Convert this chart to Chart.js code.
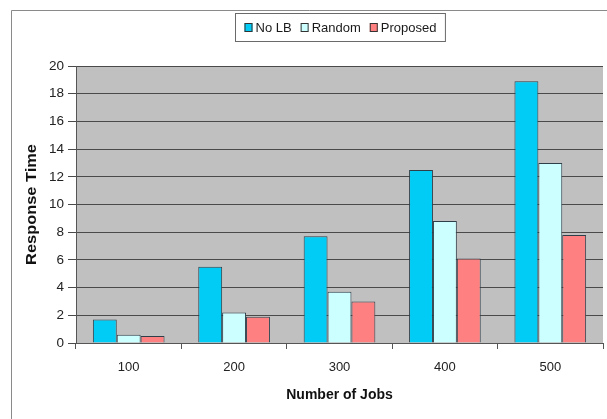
<!DOCTYPE html>
<html>
<head>
<meta charset="utf-8">
<style>
  html, body { margin: 0; padding: 0; background: #ffffff; }
  #wrap { width: 607px; height: 419px; position: relative; }
</style>
<script src="https://cdn.jsdelivr.net/npm/chart.js@4/dist/chart.umd.min.js"></script>
</head>
<body>
<div id="wrap"><canvas id="c" width="607" height="419"></canvas></div>
<script>
// Number of jobs on the x axis
const jobCounts = ['100', '200', '300', '400', '500'];

// Response time per load-balancing strategy
const noLB     = [1.7, 5.5, 7.7, 12.5, 18.9];
const randomLB = [0.6, 2.2, 3.7, 8.8, 13.0];
const proposed = [0.5, 1.9, 3.0, 6.1, 7.8];

const seriesNames = ['No LB', 'Random', 'Proposed'];
const yTicks = [0, 2, 4, 6, 8, 10, 12, 14, 16, 18, 20];
const yTitle = 'Response Time';

const FONT = '"Liberation Sans", Arial, sans-serif';

// Grey plot background and the thin frame around the whole chart
const framePlugin = {
  id: 'frame',
  beforeDraw(chart) {
    const { ctx, chartArea: a } = chart;
    ctx.save();
    ctx.fillStyle = '#ffffff';
    ctx.fillRect(0, 0, chart.width, chart.height);
    ctx.fillStyle = '#c0c0c0';
    ctx.fillRect(a.left, a.top, a.right - a.left, a.bottom - a.top);
    ctx.strokeStyle = '#8a8a8a';
    ctx.lineWidth = 1;
    ctx.beginPath();
    ctx.moveTo(11.5, chart.height);
    ctx.lineTo(11.5, 10.5);
    ctx.lineTo(chart.width, 10.5);
    ctx.stroke();
    ctx.restore();
  }
};

// Vertical axis title, centred on the plot and stretched along its length
const yTitlePlugin = {
  id: 'yTitle',
  afterDraw(chart) {
    const { ctx, chartArea: a } = chart;
    ctx.save();
    ctx.translate(32, (a.top + a.bottom) / 2);
    ctx.rotate(-Math.PI / 2);
    ctx.scale(1.17, 1);
    ctx.font = 'bold 14px ' + FONT;
    ctx.fillStyle = '#111111';
    ctx.textAlign = 'center';
    ctx.textBaseline = 'middle';
    ctx.fillText(yTitle, 0, 0);
    ctx.restore();
  }
};

// Boxed legend centred above the plot
const boxedLegend = {
  id: 'boxedLegend',
  afterDraw(chart) {
    const { ctx, chartArea: a } = chart;
    ctx.save();
    ctx.font = '13px ' + FONT;
    ctx.textBaseline = 'middle';
    const sw = 8, gapSwatch = 3, gapItem = 9, padX = 9;
    const items = chart.data.datasets.map(ds => ({
      label: ds.label, fill: ds.backgroundColor, w: ctx.measureText(ds.label).width
    }));
    let total = padX * 2;
    items.forEach((it, i) => { total += sw + gapSwatch + it.w + (i < items.length - 1 ? gapItem : 0); });
    const cx = (a.left + a.right) / 2;
    const boxL = Math.round(cx - total / 2) + 0.5;
    const boxT = 13.5, boxH = 28;
    ctx.fillStyle = '#ffffff';
    ctx.fillRect(boxL, boxT, total, boxH);
    ctx.strokeStyle = '#6a6a6a';
    ctx.lineWidth = 1;
    ctx.strokeRect(boxL, boxT, total, boxH);
    const midY = boxT + boxH / 2;
    let x = boxL + padX;
    items.forEach(it => {
      ctx.fillStyle = it.fill;
      ctx.fillRect(x, midY - 4.5, sw, 9);
      ctx.strokeStyle = '#333333';
      ctx.strokeRect(x + 0.5, midY - 4, sw - 1, 8);
      x += sw + gapSwatch;
      ctx.fillStyle = '#1a1a1a';
      ctx.fillText(it.label, x, midY + 1);
      x += it.w + gapItem;
    });
    ctx.restore();
  }
};

new Chart(document.getElementById('c'), {
  type: 'bar',
  data: {
    labels: jobCounts,
    datasets: [
      { label: seriesNames[0], data: noLB,     backgroundColor: '#00ccf5' },
      { label: seriesNames[1], data: randomLB, backgroundColor: '#ccffff' },
      { label: seriesNames[2], data: proposed, backgroundColor: '#ff8080' }
    ]
  },
  options: {
    responsive: false,
    animation: false,
    devicePixelRatio: 1,
    layout: { padding: { left: 0, right: 4, top: 66, bottom: 0 } },
    datasets: {
      bar: {
        categoryPercentage: 0.68,
        barPercentage: 1.0,
        borderColor: '#2f3f4a',
        borderWidth: 1
      }
    },
    plugins: {
      legend: { display: false },
      tooltip: { enabled: false }
    },
    scales: {
      x: {
        grid: {
          offset: true,
          drawOnChartArea: false,
          drawTicks: true,
          tickLength: 6,
          color: '#555555'
        },
        border: { color: '#555555', width: 1 },
        ticks: {
          color: '#222222',
          font: { family: FONT, size: 13 },
          padding: 11
        },
        title: {
          display: true,
          text: 'Number of Jobs',
          color: '#111111',
          font: { family: FONT, size: 14, weight: 'bold' },
          padding: { top: 0, bottom: 15 }
        },
        afterFit(scale) { scale.height = 76; }
      },
      y: {
        min: 0,
        max: 20,
        afterBuildTicks(scale) { scale.ticks = yTicks.map(v => ({ value: v })); },
        grid: {
          color: '#4a4a4a',
          lineWidth: 1,
          drawTicks: true,
          tickLength: 8
        },
        border: { color: '#555555', width: 1 },
        ticks: {
          color: '#222222',
          font: { family: FONT, size: 13.5 },
          padding: 4
        },
        title: { display: false },
        afterFit(scale) { scale.width = 76; }
      }
    }
  },
  plugins: [framePlugin, yTitlePlugin, boxedLegend]
});
</script>
</body>
</html>
